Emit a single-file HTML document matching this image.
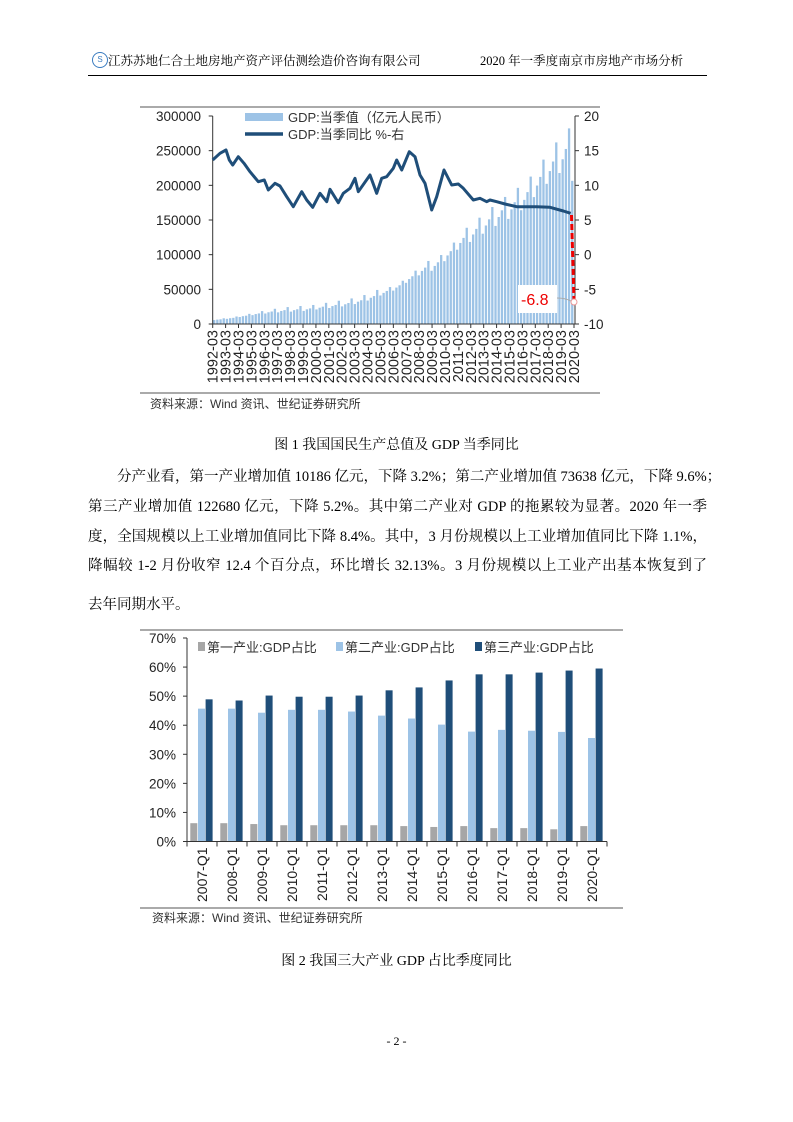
<!DOCTYPE html>
<html><head><meta charset="utf-8"><style>
body{margin:0;background:#fff;}
#pg{position:relative;width:793px;height:1122px;overflow:hidden;font-family:"Liberation Serif","Noto Serif CJK SC",serif;color:#000;}
.ln{position:absolute;left:88px;width:619px;font-size:14.5px;white-space:nowrap;text-align:justify;text-align-last:justify;}
.c{position:absolute;left:0;width:793px;text-align:center;font-size:14px;}
svg text{font-family:"Liberation Sans","Noto Sans CJK SC",sans-serif;}
</style></head><body><div id="pg">
<div style="position:absolute;left:92px;top:52px;width:14px;height:14px;border:1.5px solid #3a7cc0;border-radius:50%;font-size:8px;color:#3a7cc0;text-align:center;line-height:14px;font-family:'Liberation Sans',sans-serif">S</div>
<div style="position:absolute;left:108px;top:51px;font-size:12.5px;font-family:'Liberation Serif','Noto Serif CJK SC',serif">江苏苏地仁合土地房地产资产评估测绘造价咨询有限公司</div>
<div style="position:absolute;left:480px;top:51px;font-size:12.5px">2020 年一季度南京市房地产市场分析</div>
<div style="position:absolute;left:88px;top:75px;width:619px;height:1px;background:#000"></div>

<svg id="c1" width="793" height="420" style="position:absolute;left:0;top:0"></svg>
<div class="c" style="top:434px">图 1  我国国民生产总值及 GDP 当季同比</div>
<div class="ln" style="top:465px">　　分产业看，第一产业增加值 10186 亿元，下降 3.2%；第二产业增加值 73638 亿元，下降 9.6%；</div>
<div class="ln" style="top:495px">第三产业增加值 122680 亿元，下降 5.2%。其中第二产业对 GDP 的拖累较为显著。2020 年一季</div>
<div class="ln" style="top:525px">度，全国规模以上工业增加值同比下降 8.4%。其中，3 月份规模以上工业增加值同比下降 1.1%，</div>
<div class="ln" style="top:554px">降幅较 1-2 月份收窄 12.4 个百分点，环比增长 32.13%。3 月份规模以上工业产出基本恢复到了</div>
<div class="ln" style="top:593px;text-align-last:left">去年同期水平。</div>
<svg id="c2" width="793" height="300" style="position:absolute;left:0;top:625px"></svg>
<div class="c" style="top:950px">图 2  我国三大产业 GDP 占比季度同比</div>
<div class="c" style="top:1034px;font-size:12px">- 2 -</div>
</div>
<script>
var NS="http://www.w3.org/2000/svg";
function el(s,t,a,txt){var e=document.createElementNS(NS,t);for(var k in a)e.setAttribute(k,a[k]);if(txt!=null)e.textContent=txt;s.appendChild(e);return e;}
var s=document.getElementById('c1');
var X0=212.7,X1=574,Y0=324,Y300=116;
el(s,'line',{x1:140,y1:107,x2:600,y2:107,stroke:'#555','stroke-width':1});
el(s,'line',{x1:140,y1:393,x2:600,y2:393,stroke:'#555','stroke-width':1});
var ann={1992:27000,1993:35500,1994:48000,1995:61000,1996:72000,1997:80000,1998:85000,1999:90000,2000:100000,2001:110000,2002:121000,2003:137000,2004:161000,2005:187000,2006:219000,2007:270000,2008:319000,2009:349000,2010:412000,2011:487000,2012:538000,2013:592000,2014:643000,2015:689000,2016:746000,2017:832000,2018:919000,2019:990000};
var N=113,bw=(X1-X0)/N;
for(var i=0;i<N;i++){var y=1992+Math.floor(i/4),q=i%4;
var sf=y<2005?[0.21,0.235,0.25,0.305]:[0.22,0.24,0.255,0.285];
var v=(y==2020)?206500:ann[y]*sf[q];var h=v/300000*(Y0-Y300);
el(s,'rect',{x:X0+i*bw+0.3,y:Y0-h,width:bw*0.72,height:h,fill:'#9dc3e6'});}
el(s,'line',{x1:X0,y1:Y300,x2:X0,y2:Y0,stroke:'#333'});
el(s,'line',{x1:575,y1:Y300,x2:575,y2:Y0,stroke:'#333'});
el(s,'line',{x1:X0,y1:Y0,x2:575,y2:Y0,stroke:'#333'});
for(var k=0;k<=6;k++){var yy=Y0-k*(Y0-Y300)/6;el(s,'line',{x1:X0-4,y1:yy,x2:X0,y2:yy,stroke:'#333'});
el(s,'text',{x:201,y:yy+5,'text-anchor':'end','font-size':13.5,fill:'#222'},String(k*50000));
el(s,'line',{x1:575,y1:yy,x2:579,y2:yy,stroke:'#333'});
el(s,'text',{x:584,y:yy+5,'font-size':13.5,fill:'#222'},String(-10+k*5));}
for(var y=0;y<=28;y++){var xx=X0+y*(X1-X0)/28;el(s,'line',{x1:xx,y1:Y0,x2:xx,y2:Y0+4,stroke:'#333'});
el(s,'text',{x:0,y:0,'font-size':14.5,fill:'#222','text-anchor':'end',transform:'translate('+(xx+5)+','+(Y0+6)+') rotate(-90)'},(1992+y)+'-03');}
var pts=[[218,180],[240,160],[258,150],[268,180],[278,195],[295,170],[312,190],[330,215],[355,245],[373,240],[385,270],[405,250],[420,258],[440,290],[460,320],[485,275],[500,300],[518,322],[540,280],[560,305],[570,268],[595,308],[610,280],[630,265],[645,235],[655,275],[690,225],[710,280],[725,235],[740,230],[760,205],[770,180],[785,210],[808,155],[825,170],[840,225],[855,250],[875,330],[890,290],[912,210],[935,255],[955,252],[970,265],[1000,300],[1020,295],[1040,305],[1050,300],[1070,305],[1095,312],[1130,320],[1190,320],[1230,322],[1270,333],[1292,340]];
el(s,'polyline',{points:pts.map(function(p){return (140+p[0]/3).toFixed(1)+','+(100+p[1]/3).toFixed(1)}).join(' '),fill:'none',stroke:'#1f4e79','stroke-width':3,'stroke-linejoin':'round'});
el(s,'line',{x1:571.5,y1:215,x2:574,y2:301,stroke:'#e00','stroke-width':3,'stroke-dasharray':'6,3'});
el(s,'rect',{x:518,y:285,width:39,height:28,fill:'#fff'});
el(s,'text',{x:521,y:305,'font-size':16,fill:'#e00'},'-6.8');
el(s,'path',{d:'M557,298 Q565,298 571,301',stroke:'#aaa',fill:'none'});
el(s,'circle',{cx:574,cy:302,r:3,fill:'#fff',stroke:'#e99'});
el(s,'rect',{x:245,y:113,width:38,height:8,fill:'#9dc3e6'});
el(s,'text',{x:288,y:122,'font-size':13,fill:'#333'},'GDP:当季值（亿元人民币）');
el(s,'line',{x1:245,y1:134,x2:283,y2:134,stroke:'#1f4e79','stroke-width':3.5});
el(s,'text',{x:288,y:139,'font-size':13,fill:'#333'},'GDP:当季同比 %-右');
el(s,'text',{x:150,y:408,'font-size':12,fill:'#333'},'资料来源：Wind 资讯、世纪证券研究所');
var s2=document.getElementById('c2');
var L=187,R=607,B=216.5,T=13;
el(s2,'line',{x1:140,y1:5,x2:623,y2:5,stroke:'#555'});
el(s2,'line',{x1:140,y1:283,x2:623,y2:283,stroke:'#555'});
var p=[6.3,6.3,6.0,5.6,5.6,5.6,5.6,5.3,5.0,5.3,4.6,4.6,4.2,5.3];
var sc=[45.7,45.7,44.3,45.3,45.3,44.7,43.3,42.3,40.2,37.8,38.4,38.1,37.7,35.6];
var t=[48.9,48.5,50.2,49.8,49.8,50.2,52.0,53.0,55.4,57.5,57.5,58.1,58.8,59.5];
var gw=(R-L)/14,u=(B-T)/70;
for(var i=0;i<14;i++){var g=L+i*gw;
[[p,'#a6a6a6',3.3],[sc,'#9dc3e6',11],[t,'#1f4e79',18.6]].forEach(function(a){var h=a[0][i]*u;el(s2,'rect',{x:g+a[2],y:B-h,width:7,height:h,fill:a[1]});});
el(s2,'line',{x1:g,y1:B,x2:g,y2:B+5,stroke:'#333'});
el(s2,'text',{x:0,y:0,'font-size':14,fill:'#222','text-anchor':'end',transform:'translate('+(g+gw/2+5)+','+(B+6)+') rotate(-90)'},(2007+i)+'-Q1');}
el(s2,'line',{x1:R,y1:B,x2:R,y2:B+5,stroke:'#333'});
el(s2,'line',{x1:L,y1:T,x2:L,y2:B,stroke:'#333'});
el(s2,'line',{x1:L,y1:B,x2:R,y2:B,stroke:'#333'});
for(var k=0;k<=7;k++){var yy=B-k*10*u;el(s2,'line',{x1:L-4,y1:yy,x2:L,y2:yy,stroke:'#333'});
el(s2,'text',{x:176,y:yy+5,'text-anchor':'end','font-size':13.5,fill:'#222'},(k*10)+'%');}
[[198,'#a6a6a6','第一产业:GDP占比'],[336,'#9dc3e6','第二产业:GDP占比'],[475,'#1f4e79','第三产业:GDP占比']].forEach(function(a){
el(s2,'rect',{x:a[0],y:17,width:7,height:9,fill:a[1]});el(s2,'text',{x:a[0]+9,y:27,'font-size':13,fill:'#333'},a[2]);});
el(s2,'text',{x:152,y:297,'font-size':12,fill:'#333'},'资料来源：Wind 资讯、世纪证券研究所');
</script>
</body></html>
